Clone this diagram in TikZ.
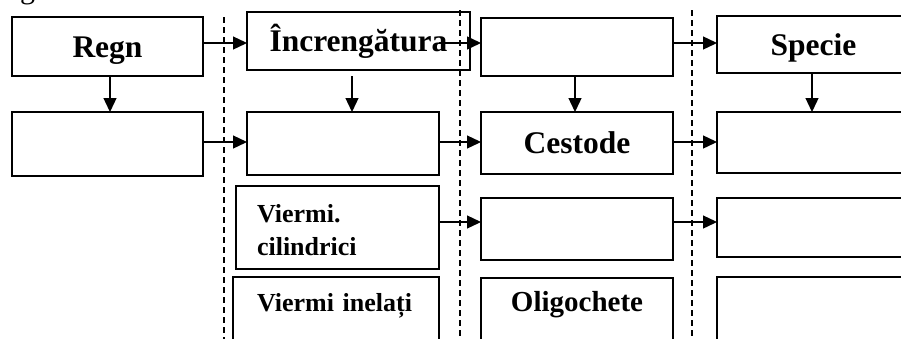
\documentclass[tikz,border=0pt]{standalone}
\usepackage{fontspec}
\setmainfont{Liberation Serif}
\usetikzlibrary{arrows.meta}
\begin{document}
\begin{tikzpicture}[x=1pt,y=-1pt,
  box/.style={draw, line width=1.6pt, rectangle, inner sep=0pt, outer sep=0pt,
    font=\fontsize{31.5}{36}\selectfont\bfseries, text height=21pt, text depth=0pt},
  small/.style={font=\fontsize{26}{33}\selectfont\bfseries, align=left},
  arr/.style={line width=1.3pt, -{Triangle[length=14pt,width=13pt]}},
  sepline/.style={line width=1.4pt, dash pattern=on 6pt off 4pt}]
\path[use as bounding box, clip] (0,0) rectangle (901,338);

% partial caption letter at the top edge
\node[font=\fontsize{30}{36}\selectfont, anchor=base west, inner sep=0pt] (cap) at (20,-2) {g};

% dashed separators
\coordinate (d1t) at (224,17);  \coordinate (d1b) at (224,340);
\coordinate (d2t) at (460,10);  \coordinate (d2b) at (460,340);
\coordinate (d3t) at (692,10);  \coordinate (d3b) at (692,340);
\draw[sepline] (d1t) -- (d1b);
\draw[sepline] (d2t) -- (d2b);
\draw[sepline] (d3t) -- (d3b);

% row 1
\node[box, minimum width=191pt, minimum height=59pt] (regn) at (107.5,46.5) {Regn};
\node[box, minimum width=223pt, minimum height=58pt] (incr) at (358.5,41) {Încrengătura};
\node[box, minimum width=192pt, minimum height=58pt] (c3r1) at (577,47) {};
\node[box, minimum width=193pt, minimum height=57pt] (spec) at (813.5,44.5) {Specie};

% row 2
\node[box, minimum width=191pt, minimum height=64pt] (c1r2) at (107.5,144) {};
\node[box, minimum width=192pt, minimum height=63pt] (c2r2) at (343,143.5) {};
\node[box, minimum width=192pt, minimum height=62pt] (cest) at (577,143) {Cestode};
\node[box, minimum width=193pt, minimum height=61pt] (c4r2) at (813.5,142.5) {};

% row 3
\node[box, small, inner xsep=21pt, text width=161pt, minimum height=83pt,
      text height=20pt, text depth=31pt] (vcil) at (337.5,227.5) {Viermi.\\cilindrici};
\node[box, minimum width=192pt, minimum height=62pt] (c3r3) at (577,229) {};
\node[box, minimum width=193pt, minimum height=59pt] (c4r3) at (813.5,227.5) {};

% row 4
\node[box, small, inner xsep=24pt, text width=158pt, minimum height=73pt,
      text height=17pt, text depth=22pt] (vinel) at (336,313.5) {Viermi inelați};
\node[box, font=\fontsize{29}{34}\selectfont\bfseries, minimum width=192pt, minimum height=72pt,
      text height=19pt, text depth=25pt] (olig) at (577,314) {Oligochete};
\node[box, minimum width=193pt, minimum height=73pt] (c4r4) at (813.5,313.5) {};

% arrow levels
\coordinate (ya) at (0,43);
\coordinate (yb) at (0,142);
\coordinate (yc) at (0,222);
\coordinate (incrtail) at (439,43);
\coordinate (incrdown) at (352,76);

% horizontal arrows
\draw[arr] (regn.east |- ya) -- (incr.west |- ya);
\draw[arr] (incrtail) -- (c3r1.west |- ya);
\draw[arr] (c3r1.east |- ya) -- (spec.west |- ya);
\draw[arr] (c1r2.east |- yb) -- (c2r2.west |- yb);
\draw[arr] (c2r2.east |- yb) -- (cest.west |- yb);
\draw[arr] (cest.east |- yb) -- (c4r2.west |- yb);
\draw[arr] (vcil.east |- yc) -- (c3r3.west |- yc);
\draw[arr] (c3r3.east |- yc) -- (c4r3.west |- yc);

% vertical arrows
\draw[arr] ([xshift=2.5pt]regn.south) -- ([xshift=2.5pt]regn.south |- c1r2.north);
\draw[arr] (incrdown) -- (incrdown |- c2r2.north);
\draw[arr] ([xshift=-2pt]c3r1.south) -- ([xshift=-2pt]c3r1.south |- cest.north);
\draw[arr] ([xshift=-1.5pt]spec.south) -- ([xshift=-1.5pt]spec.south |- c4r2.north);
\end{tikzpicture}
\end{document}
